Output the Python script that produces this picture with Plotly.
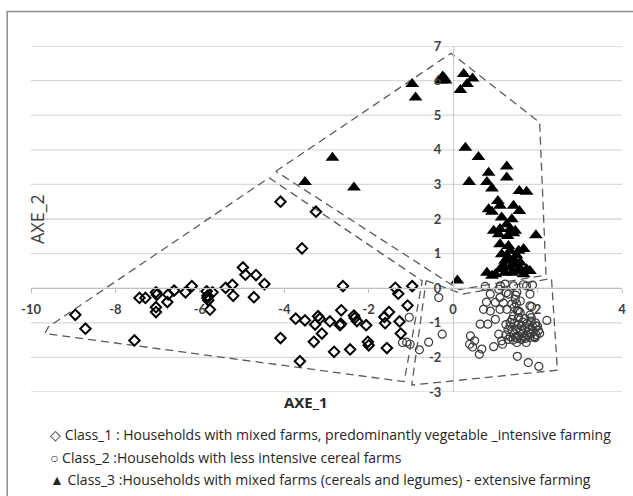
import plotly.graph_objects as go

# ---------------- data ----------------
class1_x = [-8.95, -8.71, -7.55, -7.43, -7.29, -7.04, -7.02, -7.04, -7.04, -6.77, -6.75, -6.61, -6.34, -6.19,
            -5.84, -5.82, -5.80, -5.76, -5.70, -5.82, -5.39, -5.23, -5.21, -4.98, -4.92, -4.67, -4.47, -4.72,
            -4.09, -3.25, -3.58, -2.61, -1.37, -1.30, -0.97, -1.08, -3.73, -3.51, -3.20, -3.16, -3.27, -2.92,
            -2.65, -2.66, -2.68, -2.35, -2.33, -2.28, -2.06, -1.63, -1.52, -1.61, -1.27, -1.24, -4.09, -3.11,
            -3.30, -3.63, -2.82, -2.44, -2.02, -2.00, -1.57]
class1_y = [-0.77, -1.17, -1.51, -0.28, -0.28, -0.12, -0.19, -0.55, -0.69, -0.40, -0.18, -0.07, -0.12, 0.06,
            -0.09, -0.28, -0.35, -0.62, -0.12, -0.22, 0.01, 0.10, -0.22, 0.60, 0.39, 0.38, 0.12, -0.26,
            2.50, 2.21, 1.15, 0.06, 0.01, -0.16, 0.06, -0.50, -0.88, -0.93, -0.81, -0.88, -1.05, -0.96,
            -0.64, -1.03, -1.07, -0.79, -0.86, -0.95, -1.07, -0.83, -0.69, -1.01, -0.96, -1.31, -1.44, -1.31,
            -1.55, -2.11, -1.84, -1.77, -1.55, -1.65, -1.73]

class2_x = [-0.34, -0.26, -0.58, -0.80, -1.04, -1.02, -1.10, -1.20,
            0.76, 1.08, 1.23, 1.43, 1.74, 1.66, 1.88, 1.12,
            0.88, 1.11, 1.31, 1.51, 1.59, 1.82, 1.26, 1.47,
            0.79, 1.00, 1.19, 1.39, 1.82, 1.86, 1.55, 1.27,
            0.72, 0.88, 1.11, 1.59, 1.82, 1.43,
            1.00, 0.64, 0.82, 1.35, 2.22, 1.96,
            1.08, 0.96, 1.15, 0.68, 0.62, 0.41, 0.39, 0.51, 0.46,
            1.51, 1.73, 1.94, 1.52, 1.78, 2.03, 1.17,
            1.25, 1.35, 1.45, 1.55, 1.65, 1.75, 1.85, 1.95, 2.00,
            1.30, 1.40, 1.50, 1.60, 1.70, 1.80, 1.90, 2.02,
            1.25, 1.35, 1.45, 1.55, 1.65, 1.75, 1.85, 1.97, 2.05,
            1.30, 1.42, 1.52, 1.62, 1.72, 1.82, 1.92,
            1.55, 1.70, 1.85, 1.40, 1.62, 1.78, 1.48, 1.68, 1.88,
            1.48, 1.50, 1.45, 1.52]
class2_y = [-0.27, -1.33, -1.56, -1.78, -0.84, -1.62, -1.56, -1.57,
            0.05, -0.03, 0.12, 0.07, 0.07, 0.10, 0.09, 0.07,
            -0.17, -0.27, -0.17, -0.12, -0.37, -0.17, -0.13, -0.32,
            -0.40, -0.41, -0.43, -0.46, -0.51, -0.53, -0.66, -0.61,
            -0.61, -0.66, -0.61, -0.70, -0.78, -0.80,
            -0.90, -1.04, -1.04, -0.99, -0.93, -1.09,
            -1.33, -1.69, -1.52, -1.76, -1.91, -1.38, -1.62, -1.52, -1.70,
            -1.57, -1.57, -1.43, -1.97, -2.15, -2.26, -1.62,
            -1.05, -1.10, -1.00, -1.05, -0.98, -1.02, -0.95, -1.00, -1.10,
            -1.20, -1.25, -1.18, -1.22, -1.15, -1.20, -1.25, -1.22,
            -1.35, -1.40, -1.32, -1.38, -1.30, -1.35, -1.32, -1.35, -1.30,
            -1.48, -1.50, -1.45, -1.48, -1.45, -1.42, -1.40,
            -0.85, -0.88, -0.85, -0.90, -1.10, -1.28, -1.42, -1.40, -1.10,
            -0.20, -0.45, -0.55, -0.65]

class3_x = [-0.97, -0.89, -0.28, -0.22, -0.18, -0.25, 0.25, 0.46, 0.33, 0.17, 0.29, 0.60, 0.38,
            -2.86, -3.51, -2.35, 0.10,
            0.84, 1.27, 1.27, 0.80, 0.92, 1.57, 1.74, 1.06, 0.84, 0.92, 1.11, 1.43, 1.57, 1.15, 1.39,
            1.27, 0.96, 1.11, 1.35, 1.47, 1.96,
            1.08, 1.29, 1.43, 1.11, 1.31, 1.15, 1.35, 1.55, 1.67, 1.23, 1.43, 1.59, 1.35, 1.11, 0.80,
            0.92, 1.74, 1.82, 1.51, 1.23, 1.00, 1.67,
            1.20, 1.45, 1.30, 1.50, 1.40, 1.60]
class3_y = [5.90, 5.51, 6.00, 6.08, 6.00, 6.12, 6.19, 6.06, 5.90, 5.73, 4.06, 3.79, 3.07,
            3.77, 3.07, 2.91, 0.22,
            3.34, 3.52, 3.20, 3.07, 2.88, 2.81, 2.79, 2.52, 2.28, 2.21, 2.38, 2.38, 2.23, 2.04, 1.99,
            1.85, 1.66, 1.71, 1.71, 1.66, 1.53,
            1.56, 1.51, 1.59, 1.27, 1.22, 0.98, 1.08, 1.08, 1.13, 0.79, 0.84, 0.74, 0.60, 0.55, 0.45,
            0.36, 0.55, 0.50, 0.50, 0.45, 0.40, 0.40,
            0.65, 0.70, 0.90, 0.95, 0.45, 0.55]

# dashed envelopes around each class (vertices)
hull1_x = [-4.36, -0.73, -1.16, -9.67, -9.59, -4.36]
hull1_y = [3.19, 0.21, -2.70, -1.31, -1.12, 3.19]
hull2_x = [-0.64, 0.22, 2.33, 2.47, -0.98, -0.64]
hull2_y = [0.22, -0.17, 0.28, -2.37, -2.80, 0.22]
hull3_x = [-4.20, -0.05, 2.05, 2.20, 0.14, -4.20]
hull3_y = [3.38, 6.79, 4.79, 0.38, -0.04, 3.38]

x_ticks = [-10, -8, -6, -4, -2, 0, 2, 4]
y_ticks = [-3, -2, -1, 0, 1, 2, 3, 4, 5, 6, 7]

legend_labels = [
    "◇ Class_1 : Households with mixed farms, predominantly vegetable _intensive farming",
    "○ Class_2 :Households with less intensive cereal farms",
    "▲ Class_3 :Households with mixed farms (cereals and legumes) - extensive farming",
]
x_title = "AXE_1"
y_title = "AXE_2"

# ---------------- figure ----------------
W, H = 633, 496
L, R, T, B = 31, 7, 46, 104
FONT = "Open Sans"
TICKFONT = "Lato"

fig = go.Figure()

# horizontal gridlines (one per y tick)
for v in y_ticks:
    fig.add_shape(type="line", xref="paper", yref="y", x0=0, x1=1, y0=v, y1=v,
                  line=dict(color="#d9d9d9", width=1.3), layer="below")

for hx, hy in [(hull1_x, hull1_y), (hull2_x, hull2_y), (hull3_x, hull3_y)]:
    fig.add_trace(go.Scatter(x=hx, y=hy, mode="lines", hoverinfo="skip",
                             line=dict(color="#5a5a5a", width=1.3, dash="8px,5px"),
                             showlegend=False))

fig.add_trace(go.Scatter(x=class2_x, y=class2_y, mode="markers", name="Class_2",
                         marker=dict(symbol="circle-open", size=8, color="#3a3a3a",
                                     line=dict(width=1.2, color="#3a3a3a")),
                         showlegend=False))
fig.add_trace(go.Scatter(x=class1_x, y=class1_y, mode="markers", name="Class_1",
                         marker=dict(symbol="diamond-open", size=8, color="#000000",
                                     line=dict(width=2, color="#000000")),
                         showlegend=False))
fig.add_trace(go.Scatter(x=class3_x, y=class3_y, mode="markers", name="Class_3",
                         marker=dict(symbol="triangle-up", size=12, color="#000000",
                                     line=dict(width=0)),
                         showlegend=False))

pw = W - L - R
ph = H - T - B


def px_x(p):
    return (p - L) / pw


def px_y(p):
    return (H - B - p) / ph


x0_pos = (0 - (-3)) / 10.0
y0_pos = (0 - (-10)) / 14.0

fig.update_layout(
    width=W, height=H,
    margin=dict(l=L, r=R, t=T, b=B, pad=0),
    paper_bgcolor="white", plot_bgcolor="white",
    font=dict(family=FONT, color="#404040"),
    xaxis=dict(range=[-10, 4], tickvals=x_ticks, ticktext=[str(v) for v in x_ticks],
               showgrid=False, zeroline=False, showline=True, linecolor="#bfbfbf", linewidth=1,
               ticks="outside", ticklen=4, tickcolor="#bfbfbf",
               anchor="free", position=x0_pos, ticklabelstandoff=5,
               tickfont=dict(family=TICKFONT, size=13, color="#404040", weight="bold")),
    yaxis=dict(range=[-3, 7], tickvals=y_ticks, ticktext=[str(v) for v in y_ticks],
               showgrid=False, zeroline=False, showline=True, linecolor="#c8c8c8", linewidth=1.3,
               ticks="", anchor="free", position=y0_pos, ticklabelstandoff=9,
               tickfont=dict(family=TICKFONT, size=13, color="#404040", weight="bold")),
    showlegend=False,
)

# outer chart frame (partly cut off by the picture edges, as in the reference)
fig.add_shape(type="rect", xref="paper", yref="paper",
              x0=px_x(7), x1=px_x(645), y0=px_y(505), y1=px_y(11.5),
              line=dict(color="#8c8c8c", width=1.5), fillcolor="rgba(0,0,0,0)", layer="below")

fig.add_annotation(text=x_title, xref="paper", yref="paper", x=px_x(308), y=px_y(414),
                   showarrow=False, font=dict(family=FONT, size=15, color="#262626", weight="bold"))
fig.add_annotation(text=y_title, xref="paper", yref="paper", x=px_x(23), y=px_y(219),
                   showarrow=False, textangle=-90, font=dict(family=FONT, size=18, color="#404040"))

for lab, yp in zip(legend_labels, [435, 457, 479]):
    fig.add_annotation(text=lab, xref="paper", yref="paper", x=px_x(48), y=px_y(yp),
                       xanchor="left", yanchor="middle", showarrow=False,
                       font=dict(family=FONT, size=14, color="#262626"))

fig.write_html("out.html", config={"displayModeBar": False},
               post_script="document.body.style.margin='0px';")
